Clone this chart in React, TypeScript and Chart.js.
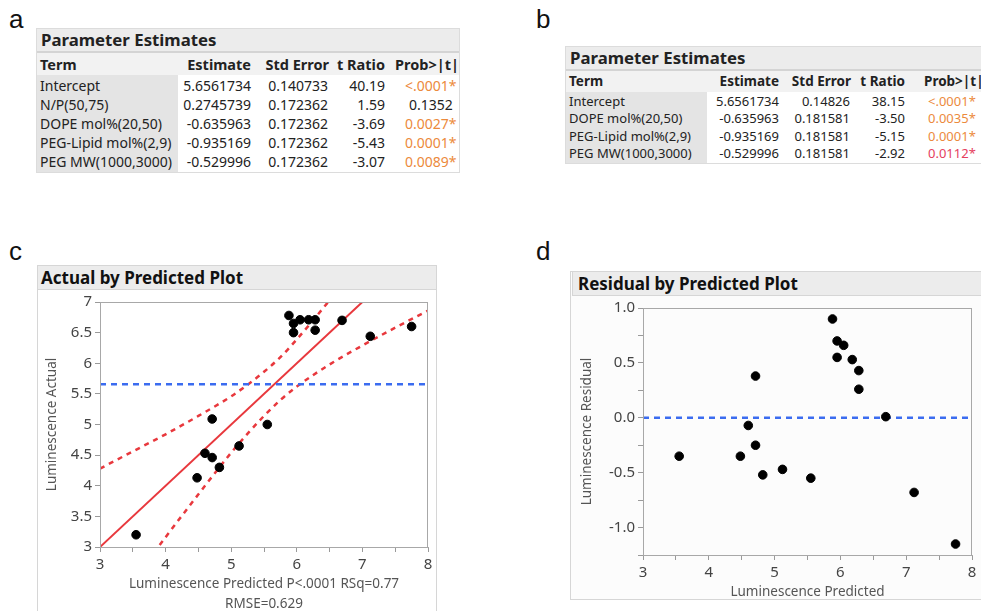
import React, { useEffect, useRef } from "react";
import { Chart, registerables } from "chart.js";
Chart.register(...registerables);

// ---------- Table data ----------
const termsA = ["Intercept", "N/P(50,75)", "DOPE mol%(20,50)", "PEG-Lipid mol%(2,9)", "PEG MW(1000,3000)"];
const estimateA = ["5.6561734", "0.2745739", "-0.635963", "-0.935169", "-0.529996"];
const stdErrorA = ["0.140733", "0.172362", "0.172362", "0.172362", "0.172362"];
const tRatioA = ["40.19", "1.59", "-3.69", "-5.43", "-3.07"];
const probA = ["<.0001*", "0.1352", "0.0027*", "0.0001*", "0.0089*"];
const probColorA = ["#ec8a3c", "#222", "#ec8a3c", "#ec8a3c", "#ec8a3c"];

const termsB = ["Intercept", "DOPE mol%(20,50)", "PEG-Lipid mol%(2,9)", "PEG MW(1000,3000)"];
const estimateB = ["5.6561734", "-0.635963", "-0.935169", "-0.529996"];
const stdErrorB = ["0.14826", "0.181581", "0.181581", "0.181581"];
const tRatioB = ["38.15", "-3.50", "-5.15", "-2.92"];
const probB = ["<.0001*", "0.0035*", "0.0001*", "0.0112*"];
const probColorB = ["#ec8a3c", "#ec8a3c", "#ec8a3c", "#e5405e"];

// ---------- Plot data ----------
const predicted = [3.55, 4.48, 4.60, 4.71, 4.71, 4.82, 5.12, 5.55, 5.88, 5.95, 5.95, 6.05, 6.18, 6.28, 6.28, 6.69, 7.12, 7.75];
const actual = [3.20, 4.13, 4.53, 5.09, 4.46, 4.30, 4.65, 5.00, 6.78, 6.65, 6.50, 6.71, 6.71, 6.71, 6.54, 6.70, 6.44, 6.60];
const residual = [-0.35, -0.35, -0.07, 0.38, -0.25, -0.52, -0.47, -0.55, 0.90, 0.70, 0.55, 0.66, 0.53, 0.43, 0.26, 0.01, -0.68, -1.15];

const bandX = [3, 3.5, 4, 4.5, 5, 5.25, 5.5, 5.75, 6, 6.5, 7, 7.5, 8];
const bandUpper = [4.28, 4.56, 4.84, 5.14, 5.46, 5.65, 5.86, 6.10, 6.39, 7.03, 7.72, 8.42, 9.14];
const bandLower = [1.72, 2.44, 3.16, 3.86, 4.54, 4.85, 5.14, 5.40, 5.62, 5.98, 6.29, 6.58, 6.86];
const fitX = [3, 8];
const fitY = [3, 8];
const meanActual = 5.656;
const xRange = [3, 8];

const FONT = "'Noto Sans', 'Open Sans', sans-serif";

const framePlugin = {
  id: "frame",
  afterDraw(chart: any) {
    const { ctx, chartArea } = chart;
    ctx.save();
    ctx.strokeStyle = "#a8a8a8";
    ctx.lineWidth = 1;
    ctx.strokeRect(chartArea.left + 0.5, chartArea.top + 0.5, chartArea.right - chartArea.left - 1, chartArea.bottom - chartArea.top);
    ctx.restore();
  },
};

const zip = (xs: number[], ys: number[]) => xs.map((x, i) => ({ x, y: ys[i] }));

function axisCommon() {
  return {
    type: "linear" as const,
    grid: { display: true, drawOnChartArea: false, drawTicks: true, tickLength: 5, color: "#9a9a9a" },
    border: { display: true, color: "#a8a8a8" },
  };
}

type TableProps = {
  left: number;
  top: number;
  width: number;
  titleH: number;
  headH: number;
  rowH: number;
  fontSize: number;
  headSize: number;
  cols: { termW: number; est: number; std: number; t: number; prob: number; probHead: number };
  terms: string[];
  est: string[];
  std: string[];
  tr: string[];
  prob: string[];
  probColor: string[];
};

function ParamTable(p: TableProps) {
  const bodyH = p.rowH * p.terms.length + 4;
  const cell = (extra: any) => ({ position: "absolute" as const, whiteSpace: "nowrap" as const, ...extra });
  return (
    <div style={{ position: "absolute", left: p.left, top: p.top, width: p.width, height: p.titleH + p.headH + bodyH, border: "1px solid #dcdcdc", background: "#fff", fontFamily: FONT, color: "#222", boxSizing: "border-box" }}>
      <div style={{ position: "absolute", left: 0, top: 0, width: "100%", height: p.titleH, background: "#ececec", borderBottom: "2px solid #d4d4d4", boxSizing: "border-box" }}>
        <div style={cell({ left: 4, top: 0, lineHeight: p.titleH - 2 + "px", fontWeight: 700, fontSize: 16.8 })}>Parameter Estimates</div>
      </div>
      <div style={{ position: "absolute", left: 0, top: p.titleH, width: "100%", height: p.headH, background: "#f2f2f2", fontWeight: 700, fontSize: p.headSize }}>
        <div style={cell({ left: 3, lineHeight: p.headH + "px" })}>Term</div>
        <div style={cell({ right: p.width - p.cols.est, lineHeight: p.headH + "px" })}>Estimate</div>
        <div style={cell({ right: p.width - p.cols.std - 1, lineHeight: p.headH + "px" })}>Std Error</div>
        <div style={cell({ right: p.width - p.cols.t, lineHeight: p.headH + "px" })}>t Ratio</div>
        <div style={cell({ left: p.cols.probHead, lineHeight: p.headH + "px" })}>Prob&gt;|t|</div>
      </div>
      <div style={{ position: "absolute", left: 0, top: p.titleH + p.headH, width: p.cols.termW, height: bodyH - 2, background: "#e4e4e4" }} />
      {p.terms.map((term, i) => {
        const top = p.titleH + p.headH + 1 + i * p.rowH;
        const base = { top, lineHeight: p.rowH + "px", fontSize: p.fontSize };
        return (
          <React.Fragment key={i}>
            <div style={cell({ ...base, left: 3 })}>{term}</div>
            <div style={cell({ ...base, right: p.width - p.cols.est })}>{p.est[i]}</div>
            <div style={cell({ ...base, right: p.width - p.cols.std })}>{p.std[i]}</div>
            <div style={cell({ ...base, right: p.width - p.cols.t })}>{p.tr[i]}</div>
            <div style={cell({ ...base, left: p.cols.prob + (p.prob[i].startsWith("0.1") ? 4 : 0), color: p.probColor[i] })}>{p.prob[i]}</div>
          </React.Fragment>
        );
      })}
    </div>
  );
}

export default function App() {
  const cRef = useRef<HTMLCanvasElement>(null);
  const dRef = useRef<HTMLCanvasElement>(null);

  useEffect(() => {
    const tickFont = { family: FONT, size: 15 };
    const titleFont = { family: FONT, size: 13.5, lineHeight: 1.45 };
    const chartC = new Chart(cRef.current!, {
      type: "scatter",
      data: {
        datasets: [
          { label: "Points", data: zip(predicted, actual), backgroundColor: "#000", borderColor: "#000", pointRadius: 4.3, order: 0 },
          { label: "Mean", data: zip(xRange, [meanActual, meanActual]), showLine: true, borderColor: "#3b6cf0", borderWidth: 2.5, borderDash: [6, 5], pointRadius: 0, order: 1, clip: 0 } as any,
          { label: "Fit", data: zip(fitX, fitY), showLine: true, borderColor: "#e8383d", borderWidth: 2, pointRadius: 0, order: 2, clip: 0 } as any,
          { label: "Upper", data: zip(bandX, bandUpper), showLine: true, borderColor: "#e8383d", borderWidth: 2.5, borderDash: [5, 5], pointRadius: 0, cubicInterpolationMode: "monotone", order: 3, clip: 0 } as any,
          { label: "Lower", data: zip(bandX, bandLower), showLine: true, borderColor: "#e8383d", borderWidth: 2.5, borderDash: [5, 5], pointRadius: 0, cubicInterpolationMode: "monotone", order: 3, clip: 0 } as any,
        ],
      },
      options: {
        animation: false,
        responsive: false,
        layout: { padding: { left: 0, right: 9, top: 11, bottom: 0 } },
        plugins: { legend: { display: false }, tooltip: { enabled: false } },
        scales: {
          x: {
            ...axisCommon(),
            min: 3,
            max: 8,
            afterFit: (s: any) => { s.height = 64; },
            ticks: { stepSize: 0.5, autoSkip: false, maxRotation: 0, padding: 4, color: "#444", font: tickFont, callback: (v: any) => (Number.isInteger(v) ? String(v) : "") },
            title: { display: true, text: ["Luminescence Predicted P<.0001 RSq=0.77", "RMSE=0.629"], color: "#555", font: titleFont, padding: { top: 0, bottom: -3 } },
          },
          y: {
            ...axisCommon(),
            min: 3,
            max: 7,
            afterFit: (s: any) => { s.width = 63; },
            ticks: { stepSize: 0.5, autoSkip: false, padding: 3, color: "#444", font: tickFont, callback: (v: any) => String(v) },
            title: { display: true, text: "Luminescence Actual", color: "#555", font: { family: FONT, size: 13.5 }, padding: { top: 7, bottom: 0 } },
          },
        },
      },
      plugins: [framePlugin],
    } as any);

    const chartD = new Chart(dRef.current!, {
      type: "scatter",
      data: {
        datasets: [
          { label: "Residuals", data: zip(predicted, residual), backgroundColor: "#000", borderColor: "#000", pointRadius: 4.3, order: 0 },
          { label: "Zero", data: zip(xRange, [0, 0]), showLine: true, borderColor: "#3b6cf0", borderWidth: 2.5, borderDash: [6, 5], pointRadius: 0, order: 1, clip: 0 } as any,
        ],
      },
      options: {
        animation: false,
        responsive: false,
        layout: { padding: { left: 0, right: 9, top: 13, bottom: 0 } },
        plugins: { legend: { display: false }, tooltip: { enabled: false } },
        scales: {
          x: {
            ...axisCommon(),
            min: 3,
            max: 8,
            afterFit: (s: any) => { s.height = 45; },
            ticks: { stepSize: 0.5, autoSkip: false, maxRotation: 0, padding: 4, color: "#444", font: tickFont, callback: (v: any) => (Number.isInteger(v) ? String(v) : "") },
            title: { display: true, text: "Luminescence Predicted", color: "#555", font: { family: FONT, size: 13.5 }, padding: { top: 0, bottom: 0 } },
          },
          y: {
            ...axisCommon(),
            min: -1.25,
            max: 1.0,
            afterFit: (s: any) => { s.width = 73; },
            ticks: { stepSize: 0.25, autoSkip: false, padding: 3, color: "#444", font: { family: FONT, size: 15 }, callback: (v: any) => (Math.abs(v * 2 - Math.round(v * 2)) < 1e-9 ? Number(v).toFixed(1) : "") },
            title: { display: true, text: "Luminescence Residual", color: "#555", font: { family: FONT, size: 13.5 }, padding: { top: 9, bottom: 0 } },
          },
        },
      },
      plugins: [framePlugin],
    } as any);

    return () => {
      chartC.destroy();
      chartD.destroy();
    };
  }, []);

  const label = (t: string, left: number, top: number) => (
    <div style={{ position: "absolute", left, top, fontFamily: "'Liberation Sans', Arial, sans-serif", fontSize: 26, lineHeight: "26px", color: "#111" }}>{t}</div>
  );

  return (
    <div style={{ position: "absolute", left: 0, top: 0, width: 981, height: 611, overflow: "hidden", background: "#fff" }}>
      {label("a", 9, 6)}
      {label("b", 536, 6)}
      {label("c", 9, 238)}
      {label("d", 536, 238)}

      <ParamTable
        left={36} top={28} width={424} titleH={24} headH={22} rowH={19} fontSize={14} headSize={14.5}
        cols={{ termW: 141, est: 216, std: 293, t: 350, prob: 368, probHead: 358 }}
        terms={termsA} est={estimateA} std={stdErrorA} tr={tRatioA} prob={probA} probColor={probColorA}
      />
      <ParamTable
        left={565} top={46} width={430} titleH={24} headH={21} rowH={17.3} fontSize={13} headSize={13.5}
        cols={{ termW: 141, est: 215, std: 286, t: 341, prob: 362, probHead: 358 }}
        terms={termsB} est={estimateB} std={stdErrorB} tr={tRatioB} prob={probB} probColor={probColorB}
      />

      {/* Panel c */}
      <div style={{ position: "absolute", left: 37, top: 265, width: 400, height: 346, border: "1px solid #d6d6d6", borderBottom: "none", boxSizing: "border-box", background: "#fff" }} />
      <div style={{ position: "absolute", left: 37, top: 265, width: 400, height: 25, background: "#ececec", border: "1px solid #d6d6d6", boxSizing: "border-box", fontFamily: FONT, fontWeight: 700, fontSize: 17, lineHeight: "23px", paddingLeft: 3, color: "#111" }}>Actual by Predicted Plot</div>
      <canvas ref={cRef} width={400} height={321} style={{ position: "absolute", left: 37, top: 290, width: 400, height: 321 }} />

      {/* Panel d */}
      <div style={{ position: "absolute", left: 570, top: 271, width: 420, height: 329, border: "1px solid #d6d6d6", boxSizing: "border-box", background: "#fcfcfc" }} />
      <div style={{ position: "absolute", left: 572, top: 271, width: 418, height: 25, background: "#ececec", border: "1px solid #d6d6d6", boxSizing: "border-box", fontFamily: FONT, fontWeight: 700, fontSize: 17, lineHeight: "23px", paddingLeft: 5, color: "#111" }}>Residual by Predicted Plot</div>
      <canvas ref={dRef} width={411} height={305} style={{ position: "absolute", left: 570, top: 295, width: 411, height: 305 }} />
    </div>
  );
}
